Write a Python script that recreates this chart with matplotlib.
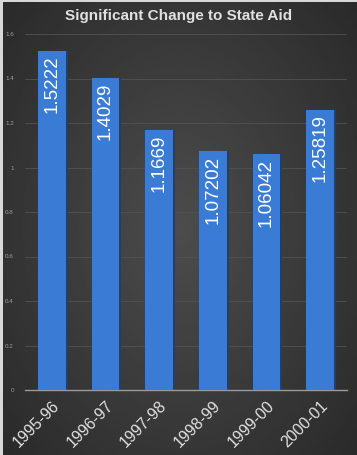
import matplotlib
matplotlib.use("Agg")
import matplotlib.pyplot as plt
import numpy as np

categories = ["1995-96", "1996-97", "1997-98", "1998-99", "1999-00", "2000-01"]
values = [1.5222, 1.4029, 1.1669, 1.07202, 1.06042, 1.25819]
labels = ["1.5222", "1.4029", "1.1669", "1.07202", "1.06042", "1.25819"]
yticks = [0, 0.2, 0.4, 0.6, 0.8, 1, 1.2, 1.4, 1.6]
ytick_labels = ["0", "0.2", "0.4", "0.6", "0.8", "1", "1.2", "1.4", "1.6"]

plt.rcParams['font.family'] = ['Liberation Sans', 'DejaVu Sans']

fig = plt.figure(figsize=(3.57, 4.55), dpi=100)
fig.patch.set_facecolor('#d8d8d8')

# background gradient
bg = fig.add_axes([0.008, 0.0, 0.992, 0.995])
yy, xx = np.mgrid[0:1:200j, 0:1:200j]
r = np.sqrt((xx - 0.5) ** 2 + ((yy - 0.5) * 0.9) ** 2)
img = 0.30 - 0.2 * r
bg.imshow(img, cmap='gray', vmin=0, vmax=1, aspect='auto', extent=[0, 1, 0, 1], origin='lower')
bg.axis('off')

ax = fig.add_axes([25/357, 1-390/455, 322/357, 356/455])
ax.set_facecolor('none')
x = np.arange(len(categories))
ax.bar(x + 0.035, values, width=0.52, color='#1f3f6e', zorder=2)
ax.bar(x, values, width=0.52, color='#3a7bd5', zorder=3)
for xi, v, lab in zip(x, values, labels):
    ax.text(xi, v - 0.02, lab, rotation=90, ha='center', va='top', color='white',
            fontsize=13.5, zorder=4)

ax.set_xlim(-0.5, len(categories) - 0.5)
ax.set_ylim(0, 1.6)
ax.set_yticks(yticks)
ax.set_yticklabels(ytick_labels)
ax.tick_params(axis='y', colors='#9a9a9a', labelsize=4.5, length=0, pad=8)
ax.set_xticks(x)
ax.set_xticklabels(categories, rotation=45, ha='right', rotation_mode='anchor')
ax.tick_params(axis='x', colors='#e0e0e0', labelsize=11.5, length=0, pad=6)
for lab in ax.get_xticklabels():
    lab.set_color('#e0e0e0')
ax.grid(axis='y', color='#525252', linewidth=0.6, zorder=0)
for s in ['top', 'right', 'left']:
    ax.spines[s].set_visible(False)
ax.spines['bottom'].set_color('#9a9a9a')
ax.spines['bottom'].set_linewidth(1)

fig.text(0.5, 1 - 16/455, "Significant Change to State Aid", ha='center', va='center',
         color='#e0e0e0', fontsize=11, fontweight='bold')

fig.savefig('out.png', dpi=100, facecolor=fig.get_facecolor())
